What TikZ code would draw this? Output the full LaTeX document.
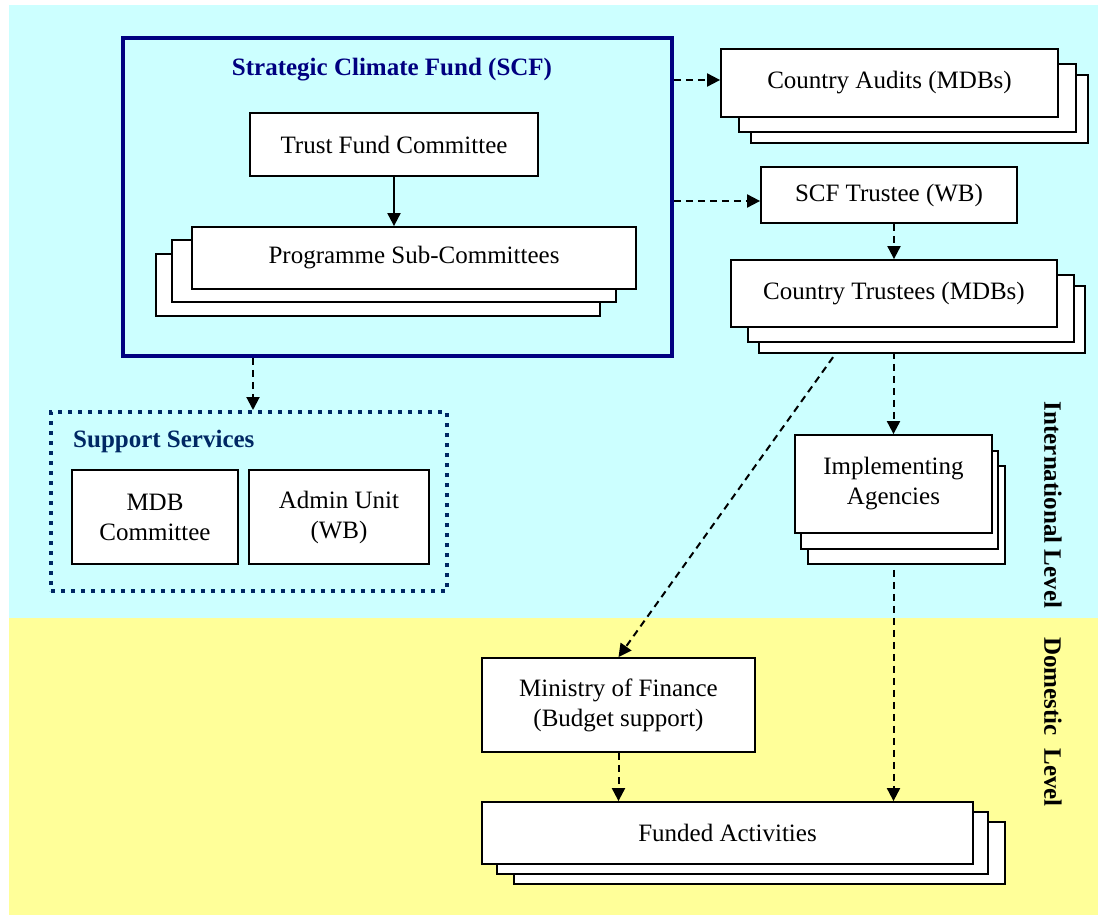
\documentclass[tikz,border=0pt]{standalone}
\usepackage{fontspec}
\setmainfont{Liberation Serif}
\usetikzlibrary{arrows.meta}
\usetikzlibrary{shadows}
\pgfdeclarelayer{bg}
\pgfdeclarelayer{links}
\pgfsetlayers{bg,links,main}
\definecolor{skyfill}{RGB}{204,255,255}
\definecolor{sandfill}{RGB}{255,255,153}
\definecolor{fundnavy}{RGB}{0,0,128}
\definecolor{servnavy}{RGB}{0,40,100}

\begin{document}
\begin{tikzpicture}[x=1pt, y=-1pt, >={Triangle[length=13pt,width=13pt]},
  txt/.style={font=\fontsize{25}{30}\selectfont},
  box/.style={txt, draw=black, fill=white, line width=1.8pt, inner sep=0pt, align=center},
  stack/.style n args={4}{box,
    general shadow={shadow xshift=#1pt, shadow yshift=#2pt, draw=black, fill=white, line width=1.8pt},
    general shadow={shadow xshift=#3pt, shadow yshift=#4pt, draw=black, fill=white, line width=1.8pt}},
  heading/.style={font=\bfseries\fontsize{25}{30}\selectfont},
  flow/.style={->, line width=2pt},
  dflow/.style={flow, dash pattern=on 7pt off 5pt}]
\useasboundingbox (0,0) rectangle (1098,915);
\begin{pgfonlayer}{bg}
\fill[skyfill] (9,5) rectangle (1098,618);
\fill[sandfill] (9,618) rectangle (1098,915);
\end{pgfonlayer}
\node[draw=fundnavy, line width=3.5pt, minimum width=549pt, minimum height=318pt] (scf) at (397.5,197) {};
\node[heading, text=fundnavy] (scftitle) at (392,70) {Strategic Climate Fund (SCF)};
\node[box, minimum width=288pt, minimum height=63pt] (tfc) at (394,144.5) {Trust Fund Committee};
\node[stack={-36}{-27}{-20}{-13}, minimum width=444pt, minimum height=62pt] (psc) at (414,258) {Programme Sub-Committees};
\node[stack={30}{-26}{18}{-15}, minimum width=337pt, minimum height=68pt] (audits) at (889.5,83) {Country Audits (MDBs)};
\node[box, minimum width=256pt, minimum height=56pt] (trustee) at (889,195) {SCF Trustee (WB)};
\node[stack={28}{-26}{17}{-15}, minimum width=326pt, minimum height=67pt] (ctrust) at (894,293.5) {Country Trustees (MDBs)};
\node[stack={13}{-31}{6}{-16}, minimum width=197pt, minimum height=98pt] (ia) at (893.5,484) {Implementing\\Agencies};
\node[box, minimum width=273pt, minimum height=94pt] (mof) at (618.5,705) {Ministry of Finance\\(Budget support)};
\node[stack={32}{-20}{15}{-10}, minimum width=491pt, minimum height=62pt] (funded) at (727.5,833) {Funded Activities};
\node[draw=servnavy, line width=4pt, dash pattern=on 4pt off 6pt, minimum width=396pt, minimum height=179pt] (support) at (249,501.5) {};
\node[heading, text=servnavy, anchor=west, inner sep=0pt] (suptitle) at (73,441) {Support Services};
\node[box, minimum width=166pt, minimum height=94pt] (mdb) at (155,517) {MDB\\Committee};
\node[box, minimum width=180pt, minimum height=94pt] (admin) at (339,517) {Admin Unit\\(WB)};
\node[heading, rotate=-90] (intl) at (1053,505) {International Level};
\node[heading, rotate=-90] (dom) at (1053,722) {Domestic\ \ Level};
\begin{pgfonlayer}{links}
\draw[flow] (tfc.south) -- (tfc.south |- psc.north);
\draw[dflow] (scf.east |- 0,80) -- (audits.west |- 0,80);
\draw[dflow] (scf.east |- 0,201) -- (trustee.west |- 0,201);
\draw[dflow] (trustee.south -| ctrust.north) -- (ctrust.north);
\draw[dflow] (ctrust.south -| ia.north) -- (ia.north);
\draw[dflow] ([xshift=-40pt]ctrust.south) -- (mof.north);
\draw[dflow] (ia.south) -- (ia.south |- funded.north);
\draw[dflow] (mof.south) -- (mof.south |- funded.north);
\draw[dflow] (scf.south -| 253,0) -- (support.north -| 253,0);
\end{pgfonlayer}
\end{tikzpicture}
\end{document}
